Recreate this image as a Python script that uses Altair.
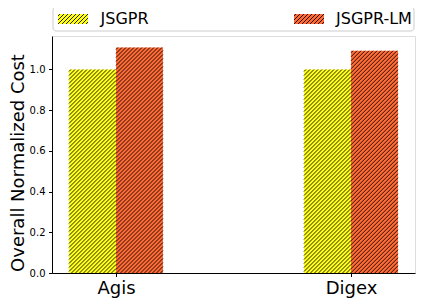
import json
import altair as alt
import pandas as pd

# ---- data ----
categories = ["Agis", "Digex"]
series = ["JSGPR", "JSGPR-LM"]
values_jsgpr = [1.0, 1.0]
values_lm = [1.108, 1.092]
colors = ["#FFFF1A", "#FF6A35"]
y_ticks = [0.0, 0.2, 0.4, 0.6, 0.8, 1.0]

# ---- layout ----
W, H = 363, 237
BAR_W = 0.2
XMIN, XMAX = -0.2723, 1.2723
YMAX = 1.1645
PX_X = W / (XMAX - XMIN)
PX_Y = H / YMAX
FONT = "DejaVu Sans"
HATCH = 4.0  # px between hatch lines
HATCH_LW = 0.85

rows = []
for i, c in enumerate(categories):
    for j, s in enumerate(series):
        v = [values_jsgpr, values_lm][j][i]
        x0 = i - BAR_W + j * BAR_W
        rows.append({"cat": c, "series": s, "value": v, "base": 0.0,
                     "x0": x0, "x1": x0 + BAR_W})
df = pd.DataFrame(rows)


def hatch_segments(w, h):
    """'/' hatch segments inside a w x h box, local px, y up."""
    segs = []
    d = -h + HATCH / 2
    while d < w:
        xa, xb = max(0.0, d), min(w, h + d)
        if xb > xa:
            segs.append((xa, xa - d, xb, xb - d))
        d += HATCH
    return segs


hrows = []
for r in rows:
    for xa, ya, xb, yb in hatch_segments(BAR_W * PX_X, r["value"] * PX_Y):
        hrows.append({"hx": r["x0"] + xa / PX_X, "hy": ya / PX_Y,
                      "hx2": r["x0"] + xb / PX_X, "hy2": yb / PX_Y})
hdf = pd.DataFrame(hrows)

xscale = alt.Scale(domain=[XMIN, XMAX], nice=False, zero=False)
yscale = alt.Scale(domain=[0, YMAX], nice=False)
label_expr = f"{json.dumps(categories)}[datum.value]"
xaxis = alt.Axis(values=list(range(len(categories))), labelExpr=label_expr,
                 title=None, labelFontSize=18, labelFont=FONT, labelColor="black",
                 tickColor="black", tickSize=3.5, labelPadding=3, domainColor="black",
                 grid=False, labelFlush=False)
yaxis = alt.Axis(values=y_ticks, format=".1f", title="Overall Normalized Cost",
                 titleFontSize=18, titleFont=FONT, titleFontWeight="normal",
                 titleColor="black", titleX=-34, titleY=H / 2 + 8, titleAngle=270,
                 titleBaseline="middle", titleAlign="center",
                 labelFontSize=10, labelFont=FONT, labelColor="black",
                 tickColor="black", tickSize=3.5, labelPadding=3.5,
                 domainColor="black", grid=False)

bars = alt.Chart(df).mark_rect(strokeWidth=0).encode(
    x=alt.X("x0:Q", scale=xscale, axis=xaxis),
    x2="x1:Q",
    y=alt.Y("value:Q", scale=yscale, axis=yaxis),
    y2="base:Q",
    fill=alt.Fill("series:N", scale=alt.Scale(domain=series, range=colors), legend=None),
)
hatch = alt.Chart(hdf).mark_rule(color="black", strokeWidth=HATCH_LW).encode(
    x=alt.X("hx:Q", scale=xscale, axis=xaxis), x2="hx2:Q",
    y=alt.Y("hy:Q", scale=yscale, axis=yaxis), y2="hy2:Q",
)

layers = [bars, hatch]

# ---- legend (manual, matplotlib style) ----
one = pd.DataFrame({"k": [0]})
layers.append(alt.Chart(one).mark_rect(fill="white", stroke="#cccccc", strokeWidth=1,
                                       cornerRadius=3).encode(
    x=alt.value(1), x2=alt.value(362), y=alt.value(-29), y2=alt.value(-5)))
leg_sw_x = [6, 242]
leg_tx_x = [48.5, 284]
SW_W, SW_H, SW_TOP = 30, 10, -22
lrows = []
for j, s in enumerate(series):
    layers.append(alt.Chart(one).mark_rect(fill=colors[j]).encode(
        x=alt.value(leg_sw_x[j]), x2=alt.value(leg_sw_x[j] + SW_W),
        y=alt.value(SW_TOP), y2=alt.value(SW_TOP + SW_H)))
    layers.append(alt.Chart(one).mark_text(text=s, font=FONT, fontSize=16, color="black",
                                           align="left", baseline="middle").encode(
        x=alt.value(leg_tx_x[j]), y=alt.value(-17)))
    for xa, ya, xb, yb in hatch_segments(SW_W, SW_H):
        lrows.append({"px": leg_sw_x[j] + xa, "py": SW_TOP + SW_H - ya,
                      "px2": leg_sw_x[j] + xb, "py2": SW_TOP + SW_H - yb})
layers.append(alt.Chart(pd.DataFrame(lrows)).mark_rule(color="black", strokeWidth=HATCH_LW).encode(
    x=alt.X("px:Q", scale=None), x2="px2:Q",
    y=alt.Y("py:Q", scale=None), y2="py2:Q"))

chart = alt.layer(*layers).properties(
    width=W, height=H,
    autosize=alt.AutoSizeParams(type="none"),
    padding={"left": 44, "top": 28, "right": 1, "bottom": 25},
).configure_view(stroke="black", strokeWidth=1).configure(font=FONT)

chart.save("out.html", embed_options={"renderer": "svg", "actions": False})
